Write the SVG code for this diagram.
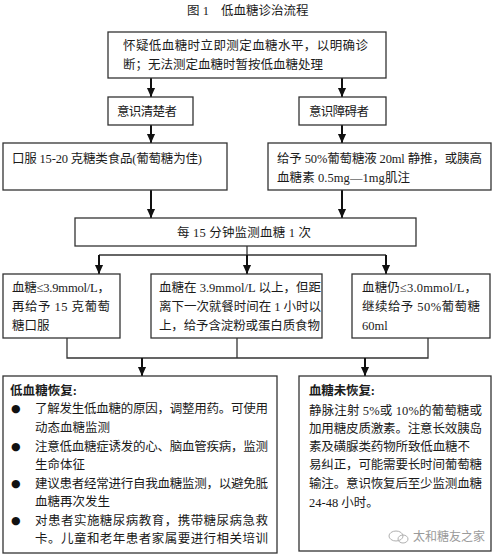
<svg xmlns="http://www.w3.org/2000/svg" width="500" height="558" viewBox="0 0 500 558">
<style>
.bg{fill:#ffffff}
.box{fill:#ffffff;stroke:#333333;stroke-width:1.3}
.ln{fill:none;stroke:#333333;stroke-width:1.3}
.ar{fill:none;stroke:#111111;stroke-width:2}
text{font-family:"Liberation Serif","Noto Sans CJK SC",serif;font-size:12.5px;fill:#1a1a1a}
.b{font-weight:bold}
.bul{font-family:"DejaVu Sans",sans-serif;font-size:11px;fill:#111111}
.wm{fill:#9a9a9a;font-size:12px;font-family:"Noto Sans CJK SC",sans-serif}
</style>
<defs>
<marker id="a" markerUnits="userSpaceOnUse" markerWidth="9" markerHeight="10" refX="10" refY="4.5" orient="auto" viewBox="0 0 10 9">
<path d="M0,0 L10,4.5 L0,9 Z" fill="#111111"/>
</marker>
</defs>
<rect class="bg" x="0" y="0" width="500" height="558"/>
<text id="title" x="187" y="15" font-size="12">图 1<tspan x="221">低血糖诊治流程</tspan></text>

<g id="connectors">
<line class="ar" x1="151" y1="78" x2="151" y2="97" marker-end="url(#a)"/>
<line class="ar" x1="342" y1="78" x2="342" y2="97" marker-end="url(#a)"/>
<line class="ar" x1="151" y1="125" x2="151" y2="143" marker-end="url(#a)"/>
<line class="ar" x1="342" y1="125" x2="342" y2="143" marker-end="url(#a)"/>
<line class="ar" x1="151" y1="190" x2="151" y2="218" marker-end="url(#a)"/>
<line class="ar" x1="342" y1="190" x2="342" y2="218" marker-end="url(#a)"/>
<polyline class="ln" points="247,246 247,255"/>
<line class="ln" x1="99" y1="255" x2="386" y2="255"/>
<line class="ar" x1="99" y1="255" x2="99" y2="274" marker-end="url(#a)"/>
<line class="ar" x1="247" y1="255" x2="247" y2="274" marker-end="url(#a)"/>
<line class="ar" x1="386" y1="255" x2="386" y2="274" marker-end="url(#a)"/>
<polyline class="ln" points="67,338 67,358 428,358 428,338"/>
<line class="ln" x1="237" y1="338" x2="237" y2="358"/>
<line class="ar" x1="142" y1="358" x2="142" y2="376" marker-end="url(#a)"/>
<line class="ar" x1="365" y1="358" x2="365" y2="376" marker-end="url(#a)"/>
</g>

<g id="n-start">
<rect class="box" x="108" y="32" width="278" height="46"/>
<text x="123" y="50" textLength="245" lengthAdjust="spacing">怀疑低血糖时立即测定血糖水平，以明确诊</text>
<text x="123" y="69" textLength="200" lengthAdjust="spacing">断；无法测定血糖时暂按低血糖处理</text>
</g>

<g id="n-conscious">
<rect class="box" x="108" y="97" width="85" height="28"/>
<text x="117" y="116" textLength="60" lengthAdjust="spacing">意识清楚者</text>
</g>

<g id="n-impaired">
<rect class="box" x="299" y="97" width="87" height="28"/>
<text x="309" y="116" textLength="60" lengthAdjust="spacing">意识障碍者</text>
</g>

<g id="n-oral">
<rect class="box" x="3" y="143" width="224" height="47"/>
<text x="12" y="163" textLength="190" lengthAdjust="spacing">口服 15-20 克糖类食品(葡萄糖为佳)</text>
</g>

<g id="n-iv">
<rect class="box" x="268" y="143" width="223" height="47"/>
<text x="277" y="163" textLength="205" lengthAdjust="spacing">给予 50%葡萄糖液 20ml 静推，或胰高</text>
<text x="277" y="182" textLength="133" lengthAdjust="spacing">血糖素 0.5mg—1mg肌注</text>
</g>

<g id="n-monitor">
<rect class="box" x="75" y="218" width="341" height="28"/>
<text x="177" y="237" textLength="134" lengthAdjust="spacing">每 15 分钟监测血糖 1 次</text>
</g>

<g id="n-low39">
<rect class="box" x="3" y="274" width="117" height="64"/>
<text x="12" y="292" textLength="98" lengthAdjust="spacing">血糖≤3.9mmol/L，</text>
<text x="12" y="311" textLength="98" lengthAdjust="spacing">再给予 15 克葡萄</text>
<text x="12" y="330">糖口服</text>
</g>

<g id="n-above39">
<rect class="box" x="151" y="274" width="171" height="64"/>
<text x="159" y="292" textLength="162" lengthAdjust="spacing">血糖在 3.9mmol/L 以上，但距</text>
<text x="159" y="311" textLength="162" lengthAdjust="spacing">离下一次就餐时间在 1 小时以</text>
<text x="159" y="330" textLength="161" lengthAdjust="spacing">上，给予含淀粉或蛋白质食物</text>
</g>

<g id="n-low30">
<rect class="box" x="352" y="274" width="138" height="64"/>
<text x="362" y="292" textLength="115" lengthAdjust="spacing">血糖仍≤3.0mmol/L，</text>
<text x="362" y="311" textLength="118" lengthAdjust="spacing">继续给予 50%葡萄糖</text>
<text x="362" y="330">60ml</text>
</g>

<g id="n-recovered">
<rect class="box" x="3" y="376" width="274" height="177"/>
<text class="b" x="10" y="395" textLength="67" lengthAdjust="spacing">低血糖恢复:</text>
<text class="bul" x="11" y="412">●</text>
<text x="35" y="413" textLength="233" lengthAdjust="spacing">了解发生低血糖的原因，调整用药。可使用</text>
<text x="35" y="432">动态血糖监测</text>
<text class="bul" x="11" y="450">●</text>
<text x="35" y="451" textLength="233" lengthAdjust="spacing">注意低血糖症诱发的心、脑血管疾病，监测</text>
<text x="35" y="469">生命体征</text>
<text class="bul" x="11" y="487">●</text>
<text x="35" y="488" textLength="233" lengthAdjust="spacing">建议患者经常进行自我血糖监测，以避免胝</text>
<text x="35" y="506">血糖再次发生</text>
<text class="bul" x="11" y="524">●</text>
<text x="35" y="525" textLength="233" lengthAdjust="spacing">对患者实施糖尿病教育，携带糖尿病急救</text>
<text x="35" y="543" textLength="233" lengthAdjust="spacing">卡。儿童和老年患者家属要进行相关培训</text>
</g>

<g id="n-notrecovered">
<rect class="box" x="299" y="376" width="192" height="175"/>
<text class="b" x="309" y="395" textLength="66" lengthAdjust="spacing">血糖未恢复:</text>
<text x="309" y="415" textLength="173" lengthAdjust="spacing">静脉注射 5%或 10%的葡萄糖或</text>
<text x="309" y="433" textLength="173" lengthAdjust="spacing">加用糖皮质激素。注意长效胰岛</text>
<text x="309" y="451" textLength="161" lengthAdjust="spacing">素及磺脲类药物所致低血糖不</text>
<text x="309" y="469" textLength="173" lengthAdjust="spacing">易纠正，可能需要长时间葡萄糖</text>
<text x="309" y="488" textLength="173" lengthAdjust="spacing">输注。意识恢复后至少监测血糖</text>
<text x="309" y="507">24-48 小时。</text>
<g id="watermark">
<ellipse cx="396" cy="536" rx="7" ry="5" fill="none" stroke="#b0b0b0" stroke-width="1"/>
<ellipse cx="403" cy="539" rx="5" ry="4" fill="none" stroke="#b0b0b0" stroke-width="1"/>
<text class="wm" x="413" y="541" textLength="72" lengthAdjust="spacing">太和糖友之家</text>
</g>
</g>
</svg>
